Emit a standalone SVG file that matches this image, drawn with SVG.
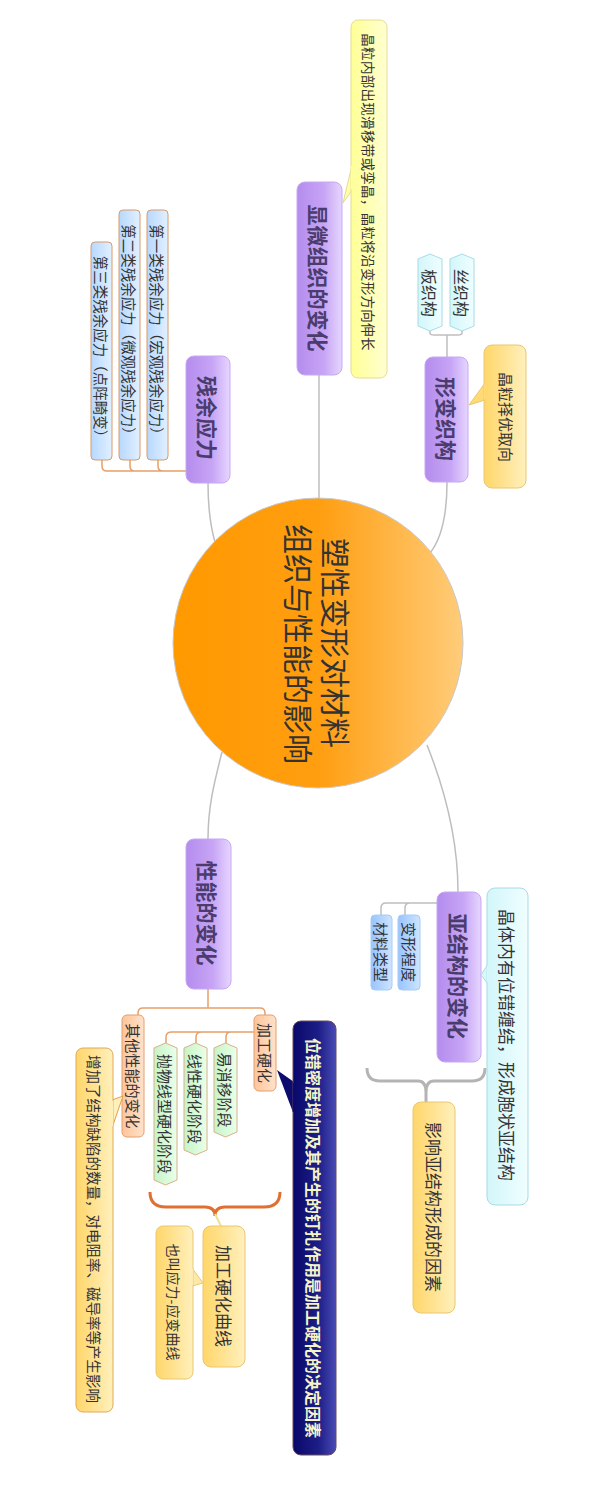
<svg xmlns="http://www.w3.org/2000/svg" width="614" height="1494" viewBox="0 0 614 1494">
<defs>
<linearGradient id="gPurple" x1="0" y1="0" x2="1" y2="0"><stop offset="0" stop-color="#B48CEE"/><stop offset="0.6" stop-color="#C7A5F5"/><stop offset="1" stop-color="#E6D6FF"/></linearGradient>
<linearGradient id="gCircle" x1="0" y1="0" x2="1" y2="0"><stop offset="0" stop-color="#FF9900"/><stop offset="0.5" stop-color="#FF9E10"/><stop offset="1" stop-color="#FFCC7A"/></linearGradient>
<linearGradient id="gPaleYellow" x1="0" y1="0" x2="1" y2="0"><stop offset="0" stop-color="#FFFF96"/><stop offset="1" stop-color="#FFFFD2"/></linearGradient>
<linearGradient id="gGold" x1="0" y1="0" x2="1" y2="0"><stop offset="0" stop-color="#FFD66A"/><stop offset="1" stop-color="#FFF0BC"/></linearGradient>
<linearGradient id="gCyan" x1="0" y1="0" x2="1" y2="0"><stop offset="0" stop-color="#D2F6FA"/><stop offset="1" stop-color="#F0FEFF"/></linearGradient>
<linearGradient id="gBlue" x1="0" y1="0" x2="1" y2="0"><stop offset="0" stop-color="#B6D8FF"/><stop offset="1" stop-color="#E2F0FF"/></linearGradient>
<linearGradient id="gBlue2" x1="0" y1="0" x2="1" y2="0"><stop offset="0" stop-color="#98C4FF"/><stop offset="1" stop-color="#CDE4FF"/></linearGradient>
<linearGradient id="gPeach" x1="0" y1="0" x2="1" y2="0"><stop offset="0" stop-color="#FFC49A"/><stop offset="1" stop-color="#FFE2CA"/></linearGradient>
<linearGradient id="gGreen" x1="0" y1="0" x2="1" y2="0"><stop offset="0" stop-color="#C6F4C6"/><stop offset="1" stop-color="#EAFFEA"/></linearGradient>
<linearGradient id="gNavy" x1="0" y1="0" x2="1" y2="0"><stop offset="0" stop-color="#08086A"/><stop offset="0.6" stop-color="#1E1E88"/><stop offset="1" stop-color="#4A4AB4"/></linearGradient>
<style>
text{font-family:"Noto Sans CJK SC","Noto Sans",sans-serif;text-anchor:middle;dominant-baseline:central;fill:#333}
.main{fill:url(#gPurple);stroke:#C8A8F2;stroke-width:1}
.mt{font-size:21px;font-weight:bold;fill:#4A3C6C}
.conn{fill:none;stroke:#BEBEBE;stroke-width:1.5}
.oconn{fill:none;stroke:#E8A06A;stroke-width:1.5}
.t13{font-size:13.5px}
.t14{font-size:14px}
.t145{font-size:14.5px}
.t15{font-size:15px}
.t16{font-size:16px}
.t17{font-size:17px}
</style>
</defs>

<g id="connectors">
<path class="conn" d="M319,375 V500"/>
<path class="conn" d="M447,482 C447,515 442,538 430,553"/>
<path class="conn" d="M208,482 C208,505 210,525 215,542"/>
<path class="conn" d="M427,745 C445,790 458,840 458,892"/>
<path class="conn" d="M222,752 C215,780 208,805 208,839"/>
<path class="conn" d="M447,357 V335 M430,331 V333 Q430,335 434,335 H458 Q462,335 462,333 V331"/>
<path class="conn" d="M437,903 H386 Q381,903 381,908 V915 M410,903 Q405,903 405,908 V915"/>
<path class="oconn" d="M186,471 H107 Q102,471 102,466 V460 M135,471 Q130,471 130,466 V460 M163,471 Q158,471 158,466 V460"/>
<path class="oconn" d="M208,989 V1008 M138,1015 V1013 Q138,1008 143,1008 H260 Q265,1008 265,1013 V1015"/>
<path class="oconn" d="M254,1032 H172 Q166,1032 166,1037 V1043 M202,1032 Q196,1032 196,1037 V1043 M231,1032 Q226,1032 226,1037 V1043"/>
<path d="M367,1068 Q367,1081 380,1081 H418 Q426,1081 426,1092 V1102 M426,1092 Q426,1081 434,1081 H472 Q485,1081 485,1068" fill="none" stroke="#B4B4B4" stroke-width="3"/>
<path d="M150,1192 Q150,1207 166,1207 H205 Q215,1207 215,1216 M215,1216 Q215,1207 225,1207 H264 Q280,1207 280,1192" fill="none" stroke="#E07032" stroke-width="3"/>
<path d="M215,1214 L221,1226" fill="none" stroke="#F0E090" stroke-width="2"/>
</g>

<g id="center">
<circle cx="318" cy="643" r="145" fill="url(#gCircle)" stroke="#C8C8C8" stroke-width="1"/>
<text x="337" y="643" transform="rotate(90 337 643)" style="font-size:30px">塑性变形对材料</text>
<text x="300" y="644" transform="rotate(90 300 644)" style="font-size:30px">组织与性能的影响</text>
</g>

<g id="n-xianwei">
<rect class="main" x="297" y="182" width="45" height="193" rx="8"/>
<text class="mt" x="319" y="278" transform="rotate(90 319 278)">显微组织的变化</text>
</g>
<g id="n-xianwei-note">
<path d="M352,165 L343,203 L352,190 Z" fill="#FFFFA8" stroke="#E6DC90" stroke-width="1"/>
<rect x="351" y="20" width="36" height="358" rx="7" fill="url(#gPaleYellow)" stroke="#E6DC90" stroke-width="1"/>
<path d="M351.8,166 L351.8,189" stroke="#FFFFA0" stroke-width="2"/>
<text class="t13" x="369" y="192" transform="rotate(90 369 192)" style="letter-spacing:0.3px">晶粒内部出现滑移带或孪晶，晶粒将沿变形方向伸长</text>
</g>

<g id="n-xingbian">
<rect class="main" x="425" y="357" width="43" height="125" rx="8"/>
<text class="mt" x="447" y="419" transform="rotate(90 447 419)">形变织构</text>
</g>
<g id="n-xingbian-note">
<path d="M485,383 L469,405 L485,400 Z" fill="#FFDA75" stroke="#E8C870" stroke-width="1"/>
<rect x="484" y="345" width="42" height="143" rx="8" fill="url(#gGold)" stroke="#E8C870" stroke-width="1"/>
<path d="M484.8,384 L484.8,399" stroke="#FFDA75" stroke-width="2"/>
<text class="t15" x="506" y="417" transform="rotate(90 506 417)">晶粒择优取向</text>
</g>
<g id="n-si">
<path d="M450,259 L462,254 L474,259 L474,326 L462,331 L450,326 Z" fill="url(#gCyan)" stroke="#A6DCE4" stroke-width="1"/>
<text class="t16" x="462" y="293" transform="rotate(90 462 293)">丝织构</text>
</g>
<g id="n-ban">
<path d="M418,259 L430,254 L442,259 L442,326 L430,331 L418,326 Z" fill="url(#gCyan)" stroke="#A6DCE4" stroke-width="1"/>
<text class="t16" x="430" y="293" transform="rotate(90 430 293)">板织构</text>
</g>

<g id="n-canyu">
<rect class="main" x="186" y="356" width="44" height="127" rx="8"/>
<text class="mt" x="208" y="418" transform="rotate(90 208 418)">残余应力</text>
</g>
<g id="n-c1">
<rect x="147" y="210" width="21" height="250" rx="4" fill="url(#gBlue)" stroke="#D89A68" stroke-width="1"/>
<text class="t145" x="157.5" y="333" transform="rotate(90 157.5 333)">第一类残余应力（宏观残余应力）</text>
</g>
<g id="n-c2">
<rect x="119" y="210" width="21" height="250" rx="4" fill="url(#gBlue)" stroke="#D89A68" stroke-width="1"/>
<text class="t145" x="129.5" y="333" transform="rotate(90 129.5 333)">第二类残余应力（微观残余应力）</text>
</g>
<g id="n-c3">
<rect x="91" y="242" width="21" height="218" rx="4" fill="url(#gBlue)" stroke="#D89A68" stroke-width="1"/>
<text class="t145" x="101.5" y="350" transform="rotate(90 101.5 350)">第三类残余应力（点阵畸变）</text>
</g>

<g id="n-yajiegou">
<rect class="main" x="437" y="892" width="44" height="170" rx="8"/>
<text class="mt" x="459" y="976" transform="rotate(90 459 976)">亚结构的变化</text>
</g>
<g id="n-yajiegou-note">
<path d="M488,964 L481,975 L488,984 Z" fill="#DAF8FC" stroke="#A6DCE4" stroke-width="1"/>
<rect x="487" y="888" width="41" height="317" rx="8" fill="url(#gCyan)" stroke="#A6DCE4" stroke-width="1"/>
<path d="M487.8,966 L487.8,982" stroke="#DAF8FC" stroke-width="2"/>
<text class="t17" x="507" y="1045" transform="rotate(90 507 1045)">晶体内有位错缠结，形成胞状亚结构</text>
</g>
<g id="n-bianxing">
<rect x="398" y="915" width="22" height="75" rx="4" fill="url(#gBlue2)" stroke="#A8CCF4" stroke-width="1"/>
<text class="t15" x="409" y="952" transform="rotate(90 409 952)">变形程度</text>
</g>
<g id="n-cailiao">
<rect x="371" y="915" width="21" height="75" rx="4" fill="url(#gBlue2)" stroke="#A8CCF4" stroke-width="1"/>
<text class="t15" x="381.5" y="952" transform="rotate(90 381.5 952)">材料类型</text>
</g>
<g id="n-yingxiang">
<rect x="413" y="1102" width="42" height="211" rx="8" fill="url(#gGold)" stroke="#E8C870" stroke-width="1"/>
<text class="t17" x="434" y="1207" transform="rotate(90 434 1207)">影响亚结构形成的因素</text>
</g>

<g id="n-xingneng">
<rect class="main" x="186" y="839" width="45" height="150" rx="8"/>
<text class="mt" x="208" y="913" transform="rotate(90 208 913)">性能的变化</text>
</g>
<g id="n-jiagong">
<rect x="254" y="1015" width="22" height="76" rx="5" fill="url(#gPeach)" stroke="#E0A070" stroke-width="1"/>
<text class="t15" x="265" y="1053" transform="rotate(90 265 1053)">加工硬化</text>
</g>
<g id="n-qita">
<rect x="122" y="1015" width="22" height="122" rx="5" fill="url(#gPeach)" stroke="#E0A070" stroke-width="1"/>
<text class="t15" x="133" y="1076" transform="rotate(90 133 1076)">其他性能的变化</text>
</g>
<g id="n-yihua">
<path d="M214,1048 L225.5,1043 L237,1048 L237,1132 L225.5,1137 L214,1132 Z" fill="url(#gGreen)" stroke="#D6B28C" stroke-width="1"/>
<text class="t15" x="225.5" y="1090" transform="rotate(90 225.5 1090)">易消移阶段</text>
</g>
<g id="n-xianxing">
<path d="M184,1048 L195.5,1043 L207,1048 L207,1150 L195.5,1155 L184,1150 Z" fill="url(#gGreen)" stroke="#D6B28C" stroke-width="1"/>
<text class="t15" x="195.5" y="1099" transform="rotate(90 195.5 1099)">线性硬化阶段</text>
</g>
<g id="n-paowu">
<path d="M154,1048 L165.5,1043 L177,1048 L177,1180 L165.5,1185 L154,1180 Z" fill="url(#gGreen)" stroke="#D6B28C" stroke-width="1"/>
<text class="t15" x="165.5" y="1114" transform="rotate(90 165.5 1114)">抛物线型硬化阶段</text>
</g>
<g id="n-weicuo">
<path d="M294,1082 L277,1070 L294,1115 Z" fill="#0C0C70"/>
<rect x="293" y="1021" width="43" height="434" rx="8" fill="url(#gNavy)" stroke="#6A4A5A" stroke-width="1"/>
<path d="M293.8,1083 L293.8,1112" stroke="#0C0C70" stroke-width="2"/>
<text class="t16" x="314" y="1238" transform="rotate(90 314 1238)" style="font-weight:bold;fill:#F4F4C8">位错密度增加及其产生的钉扎作用是加工硬化的决定因素</text>
</g>
<g id="n-quxian">
<rect x="203" y="1226" width="42" height="141" rx="8" fill="url(#gGold)" stroke="#E8C870" stroke-width="1"/>
<text class="t17" x="224" y="1296" transform="rotate(90 224 1296)">加工硬化曲线</text>
</g>
<g id="n-yejiao">
<path d="M192,1268 L203,1283 L192,1286 Z" fill="#FFE9A8" stroke="#E8C870" stroke-width="1"/>
<rect x="156" y="1226" width="37" height="153" rx="7" fill="url(#gGold)" stroke="#E8C870" stroke-width="1"/>
<path d="M192.2,1269 L192.2,1285" stroke="#FFEBAE" stroke-width="2"/>
<text class="t14" x="174" y="1302" transform="rotate(90 174 1302)">也叫应力-应变曲线</text>
</g>
<g id="n-zengjia">
<path d="M112,1100 L123,1096 L112,1128 Z" fill="#FFEFB8" stroke="#E0A050" stroke-width="1"/>
<rect x="76" y="1048" width="37" height="364" rx="7" fill="url(#gGold)" stroke="#E0A858" stroke-width="1"/>
<path d="M112.2,1101 L112.2,1126" stroke="#FFEFB8" stroke-width="2"/>
<text class="t145" x="94" y="1229" transform="rotate(90 94 1229)">增加了结构缺陷的数量，对电阻率、磁导率等产生影响</text>
</g>
</svg>
